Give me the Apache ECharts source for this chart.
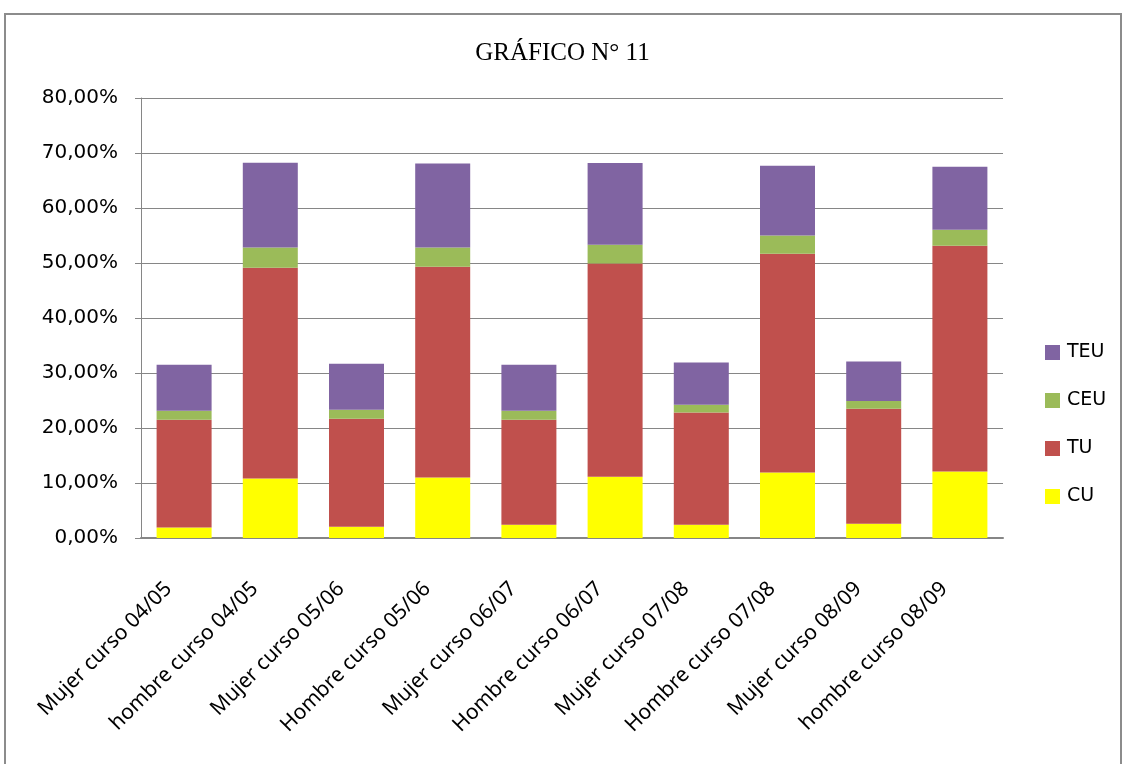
<!DOCTYPE html>
<html>
<head>
<meta charset="utf-8">
<script src="https://cdn.jsdelivr.net/npm/echarts@6/dist/echarts.min.js"></script>
<style>
  html, body { margin: 0; padding: 0; background: #fff; }
  #chart { width: 1125px; height: 764px; }
</style>
</head>
<body>
<div id="chart"></div>
<script>
var categories = ['Mujer curso 04/05', 'hombre curso 04/05', 'Mujer curso 05/06', 'Hombre curso 05/06',
    'Mujer curso 06/07', 'Hombre curso 06/07', 'Mujer curso 07/08', 'Hombre curso 07/08',
    'Mujer curso 08/09', 'hombre curso 08/09'];
// valores en %
var cu  = [1.9, 10.8, 2.05, 11.0, 2.4, 11.15, 2.4, 11.9, 2.6, 12.1];
var tu  = [19.6, 38.35, 19.65, 38.3, 19.1, 38.75, 20.4, 39.8, 20.9, 41.05];
var ceu = [1.65, 3.65, 1.6, 3.5, 1.65, 3.4, 1.45, 3.3, 1.4, 2.9];
var teu = [8.35, 15.45, 8.4, 15.3, 8.35, 14.9, 7.65, 12.7, 7.2, 11.45];
var yTicks = { min: 0, max: 80, interval: 10 };

var chart = echarts.init(document.getElementById('chart'));

function serie(name, data, color) {
    return {
        name: name,
        type: 'bar',
        stack: 'total',
        barWidth: 55,
        data: data,
        itemStyle: { color: color }
    };
}

var option = {
    backgroundColor: '#fff',
    animation: false,
    title: {
        text: 'GRÁFICO N° 11',
        left: 'center',
        top: 36,
        textStyle: { fontFamily: 'Liberation Serif', fontSize: 25, fontWeight: 'normal', color: '#000' }
    },
    graphic: [{
        type: 'rect',
        shape: { x: 5, y: 14, width: 1116, height: 770 },
        style: { fill: 'none', stroke: '#8c8c8c', lineWidth: 2 },
        silent: true
    }],
    legend: {
        orient: 'vertical',
        left: 1040,
        top: 338,
        itemWidth: 15,
        itemHeight: 15,
        itemGap: 29,
        icon: 'rect',
        data: ['TEU', 'CEU', 'TU', 'CU'],
        textStyle: { fontFamily: 'DejaVu Sans', fontSize: 19, color: '#000', padding: [0, 0, 0, 2] }
    },
    grid: {
        left: 141,
        right: 122,
        top: 98,
        bottom: 226
    },
    xAxis: {
        type: 'category',
        data: categories,
        axisLine: { lineStyle: { color: '#868686', width: 2 } },
        axisTick: { show: false },
        axisLabel: {
            rotate: 45,
            interval: 0,
            margin: 32,
            padding: [0, 22, 0, 0],
            fontFamily: 'Noto Sans',
            fontSize: 21,
            color: '#000'
        }
    },
    yAxis: {
        type: 'value',
        min: yTicks.min,
        max: yTicks.max,
        interval: yTicks.interval,
        axisLine: { show: true, lineStyle: { color: '#868686', width: 1 } },
        axisTick: { show: true, length: 6, lineStyle: { color: '#868686' } },
        splitLine: { lineStyle: { color: '#868686', width: 1 } },
        axisLabel: {
            margin: 23,
            fontFamily: 'DejaVu Sans',
            fontSize: 20,
            color: '#000',
            formatter: function (v) {
                return v.toFixed(2).replace('.', ',') + '%';
            }
        }
    },
    series: [
        serie('CU', cu, '#FFFF00'),
        serie('TU', tu, '#C0504D'),
        serie('CEU', ceu, '#9BBB59'),
        serie('TEU', teu, '#8064A2')
    ]
};
chart.setOption(option);
</script>
</body>
</html>
